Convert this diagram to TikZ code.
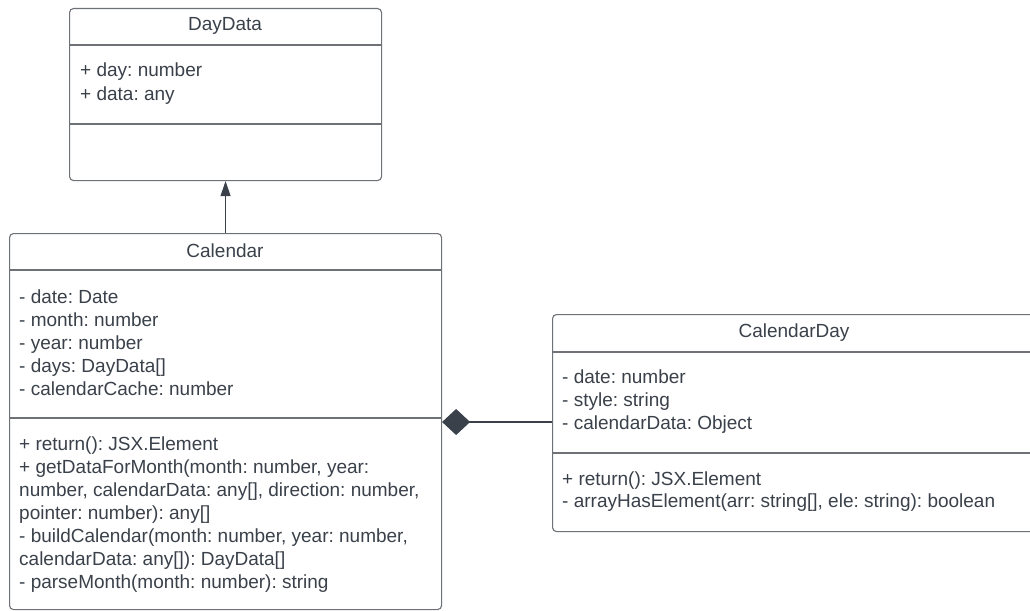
\documentclass[tikz,border=0pt]{standalone}
\usepackage{fontspec}
\setmainfont{Liberation Sans}
\usetikzlibrary{arrows.meta}
\frenchspacing
\definecolor{txt}{HTML}{3A414A}
\definecolor{bord}{HTML}{6E7175}
\definecolor{conn}{HTML}{3A414A}
\tikzset{
  classbox/.style={draw=bord, line width=1.1pt, rounded corners=4pt, fill=white, inner sep=0pt, anchor=north west},
  divider/.style={draw=bord, line width=1.1pt},
  ln/.style={anchor=base west, inner sep=0pt, text=txt, font=\fontsize{19}{23}\selectfont\frenchspacing},
  ttl/.style={anchor=base, inner sep=0pt, text=txt, font=\fontsize{19}{23}\selectfont\frenchspacing},
  conline/.style={draw=conn, line width=1.1pt},
}
\begin{document}
\begin{tikzpicture}[x=1pt,y=-1pt]
\useasboundingbox (0,0) rectangle (1030,610);
\clip (0,0) rectangle (1030,610);
\fill[white] (0,0) rectangle (1030,610);

% DayData
\node[classbox, minimum width=312pt, minimum height=172pt] (daydata) at (69,8) {};
\draw[divider] (69,45) -- (381,45);
\draw[divider] (69,124) -- (381,124);
\node[ttl] (ddt) at (225,31) {DayData};
\node[ln] (dd1) at (80,77) {+ day: number};
\node[ln] (dd2) at (80,100) {+ data: any};

% Calendar
\node[classbox, minimum width=432pt, minimum height=376pt] (calendar) at (9,233) {};
\draw[divider] (9,270) -- (441,270);
\draw[divider] (9,418) -- (441,418);
\node[ttl] (cat) at (225,257) {Calendar};
\node[ln] (ca1) at (19,303) {- date: Date};
\node[ln] (ca2) at (19,326) {- month: number};
\node[ln] (ca3) at (19,349) {- year: number};
\node[ln] (ca4) at (19,372) {- days: DayData[]};
\node[ln] (ca5) at (19,395) {- calendarCache: number};
\node[ln] (cm1) at (19,450) {+ return(): JSX.Element};
\node[ln] (cm2) at (19,473) {+ getDataForMonth(month: number, year:};
\node[ln] (cm3) at (19,496) {number, calendarData: any[], direction: number,};
\node[ln] (cm4) at (19,519) {pointer: number): any[]};
\node[ln] (cm5) at (19,542) {- buildCalendar(month: number, year: number,};
\node[ln] (cm6) at (19,565) {calendarData: any[]): DayData[]};
\node[ln] (cm7) at (19,588) {- parseMonth(month: number): string};

% CalendarDay
\node[classbox, minimum width=484pt, minimum height=217pt] (calday) at (552,314) {};
\draw[divider] (552,352) -- (1036,352);
\draw[divider] (552,453) -- (1036,453);
\node[ttl] (cdt) at (794,337) {CalendarDay};
\node[ln] (cd1) at (562,383) {- date: number};
\node[ln] (cd2) at (562,406) {- style: string};
\node[ln] (cd3) at (562,429) {- calendarData: Object};
\node[ln] (cd4) at (562,485) {+ return(): JSX.Element};
\node[ln] (cd5) at (562,507) {- arrayHasElement(arr: string[], ele: string): boolean};

% connectors
\draw[conline, -{Triangle[length=15pt,width=10pt]}] (calendar.north) -- (daydata.south);
\coordinate (compA) at (calendar.east |- 0,422);
\coordinate (compB) at (calday.west |- 0,422);
\draw[conline, {Diamond[length=28pt,width=26pt,fill=conn]}-] (compA) -- (compB);
\end{tikzpicture}
\end{document}
